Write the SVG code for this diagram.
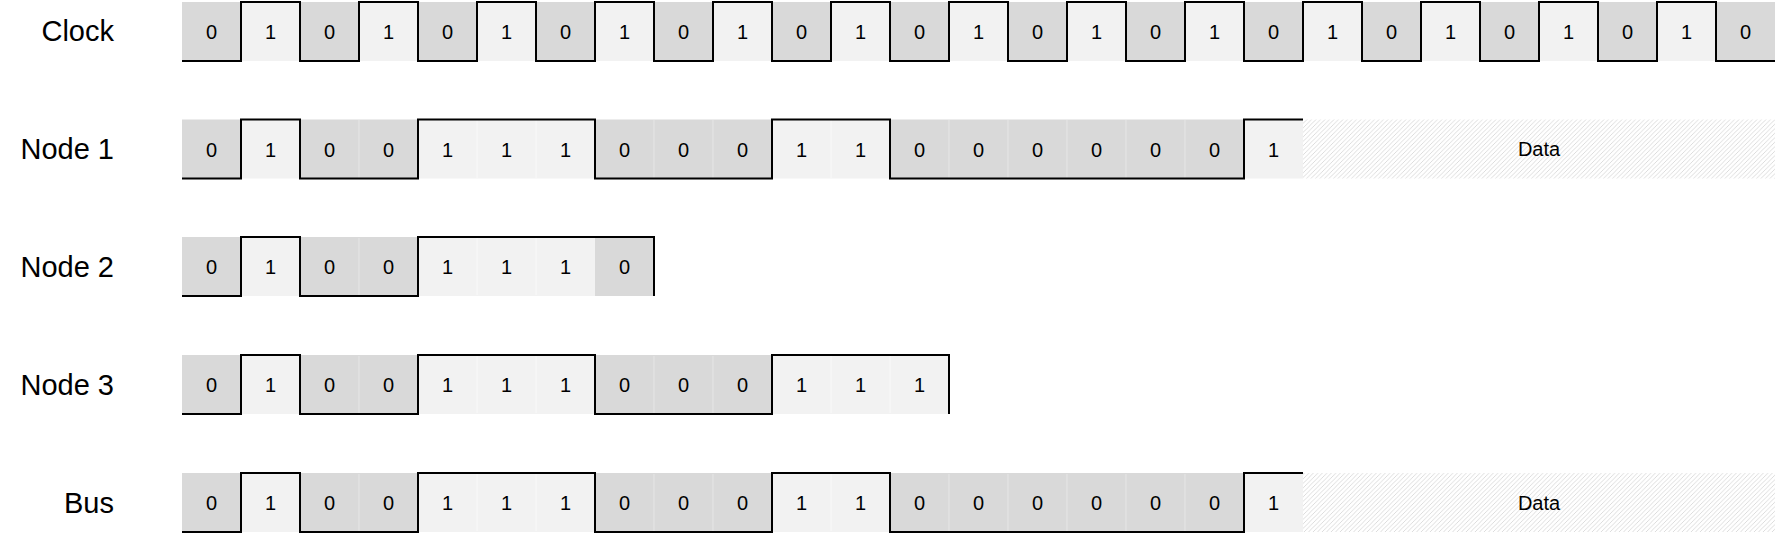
<svg xmlns="http://www.w3.org/2000/svg" width="1778" height="540" viewBox="0 0 1778 540">
<style>
.z{fill:#d9d9d9}
.o{fill:#f2f2f2}
.h{fill:url(#hatch)}
.sz{stroke:#e6e6e6;stroke-width:1}
.so{stroke:#f9f9f9;stroke-width:1}
.w{fill:none;stroke:#000;stroke-width:2;stroke-linejoin:miter;stroke-linecap:butt}
.d{font-family:"Liberation Sans",Arial,sans-serif;font-size:20px;text-anchor:middle;fill:#000}
.l{font-family:"Liberation Sans",Arial,sans-serif;font-size:29px;text-anchor:end;fill:#000}
</style>
<defs>
<pattern id="hatch" patternUnits="userSpaceOnUse" width="4.5" height="4.5">
<rect width="4.5" height="4.5" fill="#ffffff"/>
<path d="M-1,1 L1,-1 M0,4.5 L4.5,0 M3.5,5.5 L5.5,3.5" stroke="#d4d4d4" stroke-width="0.8"/>
</pattern>
</defs>

<g id="clock">
<text class="l" x="114" y="41">Clock</text>
<g>
<rect class="z" x="182" y="2" width="59" height="59"/>
<rect class="o" x="241" y="2" width="59" height="59"/>
<rect class="z" x="300" y="2" width="59" height="59"/>
<rect class="o" x="359" y="2" width="59" height="59"/>
<rect class="z" x="418" y="2" width="59" height="59"/>
<rect class="o" x="477" y="2" width="59" height="59"/>
<rect class="z" x="536" y="2" width="59" height="59"/>
<rect class="o" x="595" y="2" width="59" height="59"/>
<rect class="z" x="654" y="2" width="59" height="59"/>
<rect class="o" x="713" y="2" width="59" height="59"/>
<rect class="z" x="772" y="2" width="59" height="59"/>
<rect class="o" x="831" y="2" width="59" height="59"/>
<rect class="z" x="890" y="2" width="59" height="59"/>
<rect class="o" x="949" y="2" width="59" height="59"/>
<rect class="z" x="1008" y="2" width="59" height="59"/>
<rect class="o" x="1067" y="2" width="59" height="59"/>
<rect class="z" x="1126" y="2" width="59" height="59"/>
<rect class="o" x="1185" y="2" width="59" height="59"/>
<rect class="z" x="1244" y="2" width="59" height="59"/>
<rect class="o" x="1303" y="2" width="59" height="59"/>
<rect class="z" x="1362" y="2" width="59" height="59"/>
<rect class="o" x="1421" y="2" width="59" height="59"/>
<rect class="z" x="1480" y="2" width="59" height="59"/>
<rect class="o" x="1539" y="2" width="59" height="59"/>
<rect class="z" x="1598" y="2" width="59" height="59"/>
<rect class="o" x="1657" y="2" width="59" height="59"/>
<rect class="z" x="1716" y="2" width="59" height="59"/>
</g>
<g>
<text class="d" x="211.5" y="39">0</text>
<text class="d" x="270.5" y="39">1</text>
<text class="d" x="329.5" y="39">0</text>
<text class="d" x="388.5" y="39">1</text>
<text class="d" x="447.5" y="39">0</text>
<text class="d" x="506.5" y="39">1</text>
<text class="d" x="565.5" y="39">0</text>
<text class="d" x="624.5" y="39">1</text>
<text class="d" x="683.5" y="39">0</text>
<text class="d" x="742.5" y="39">1</text>
<text class="d" x="801.5" y="39">0</text>
<text class="d" x="860.5" y="39">1</text>
<text class="d" x="919.5" y="39">0</text>
<text class="d" x="978.5" y="39">1</text>
<text class="d" x="1037.5" y="39">0</text>
<text class="d" x="1096.5" y="39">1</text>
<text class="d" x="1155.5" y="39">0</text>
<text class="d" x="1214.5" y="39">1</text>
<text class="d" x="1273.5" y="39">0</text>
<text class="d" x="1332.5" y="39">1</text>
<text class="d" x="1391.5" y="39">0</text>
<text class="d" x="1450.5" y="39">1</text>
<text class="d" x="1509.5" y="39">0</text>
<text class="d" x="1568.5" y="39">1</text>
<text class="d" x="1627.5" y="39">0</text>
<text class="d" x="1686.5" y="39">1</text>
<text class="d" x="1745.5" y="39">0</text>
</g>
</g>

<g id="node1">
<text class="l" x="114" y="159">Node 1</text>
<g>
<rect class="z" x="182" y="119.5" width="59" height="59"/>
<rect class="o" x="241" y="119.5" width="59" height="59"/>
<rect class="z" x="300" y="119.5" width="118" height="59"/>
<rect class="o" x="418" y="119.5" width="177" height="59"/>
<rect class="z" x="595" y="119.5" width="177" height="59"/>
<rect class="o" x="772" y="119.5" width="118" height="59"/>
<rect class="z" x="890" y="119.5" width="354" height="59"/>
<rect class="o" x="1244" y="119.5" width="59" height="59"/>
<rect class="h" x="1303" y="119.5" width="472" height="59"/>
<path class="sz" d="M359,120V178 M654,120V178 M713,120V178 M949,120V178 M1008,120V178 M1067,120V178 M1126,120V178 M1185,120V178"/>
<path class="so" d="M477,120V178 M536,120V178 M831,120V178"/>
</g>
<g>
<text class="d" x="211.5" y="156.5">0</text>
<text class="d" x="270.5" y="156.5">1</text>
<text class="d" x="329.5" y="156.5">0</text>
<text class="d" x="388.5" y="156.5">0</text>
<text class="d" x="447.5" y="156.5">1</text>
<text class="d" x="506.5" y="156.5">1</text>
<text class="d" x="565.5" y="156.5">1</text>
<text class="d" x="624.5" y="156.5">0</text>
<text class="d" x="683.5" y="156.5">0</text>
<text class="d" x="742.5" y="156.5">0</text>
<text class="d" x="801.5" y="156.5">1</text>
<text class="d" x="860.5" y="156.5">1</text>
<text class="d" x="919.5" y="156.5">0</text>
<text class="d" x="978.5" y="156.5">0</text>
<text class="d" x="1037.5" y="156.5">0</text>
<text class="d" x="1096.5" y="156.5">0</text>
<text class="d" x="1155.5" y="156.5">0</text>
<text class="d" x="1214.5" y="156.5">0</text>
<text class="d" x="1273.5" y="156.5">1</text>
<text class="d" x="1539" y="156">Data</text>
</g>
</g>

<g id="node2">
<text class="l" x="114" y="276.5">Node 2</text>
<g>
<rect class="z" x="182" y="237" width="59" height="59"/>
<rect class="o" x="241" y="237" width="59" height="59"/>
<rect class="z" x="300" y="237" width="118" height="59"/>
<rect class="o" x="418" y="237" width="177" height="59"/>
<rect class="z" x="595" y="237" width="59" height="59"/>
<path class="sz" d="M359,238V295"/>
<path class="so" d="M477,238V295 M536,238V295"/>
</g>
<g>
<text class="d" x="211.5" y="274">0</text>
<text class="d" x="270.5" y="274">1</text>
<text class="d" x="329.5" y="274">0</text>
<text class="d" x="388.5" y="274">0</text>
<text class="d" x="447.5" y="274">1</text>
<text class="d" x="506.5" y="274">1</text>
<text class="d" x="565.5" y="274">1</text>
<text class="d" x="624.5" y="274">0</text>
</g>
</g>

<g id="node3">
<text class="l" x="114" y="394.5">Node 3</text>
<g>
<rect class="z" x="182" y="355" width="59" height="59"/>
<rect class="o" x="241" y="355" width="59" height="59"/>
<rect class="z" x="300" y="355" width="118" height="59"/>
<rect class="o" x="418" y="355" width="177" height="59"/>
<rect class="z" x="595" y="355" width="177" height="59"/>
<rect class="o" x="772" y="355" width="177" height="59"/>
<path class="sz" d="M359,356V413 M654,356V413 M713,356V413"/>
<path class="so" d="M477,356V413 M536,356V413 M831,356V413 M890,356V413"/>
</g>
<g>
<text class="d" x="211.5" y="392">0</text>
<text class="d" x="270.5" y="392">1</text>
<text class="d" x="329.5" y="392">0</text>
<text class="d" x="388.5" y="392">0</text>
<text class="d" x="447.5" y="392">1</text>
<text class="d" x="506.5" y="392">1</text>
<text class="d" x="565.5" y="392">1</text>
<text class="d" x="624.5" y="392">0</text>
<text class="d" x="683.5" y="392">0</text>
<text class="d" x="742.5" y="392">0</text>
<text class="d" x="801.5" y="392">1</text>
<text class="d" x="860.5" y="392">1</text>
<text class="d" x="919.5" y="392">1</text>
</g>
</g>

<g id="bus">
<text class="l" x="114" y="512.5">Bus</text>
<g>
<rect class="z" x="182" y="473" width="59" height="59"/>
<rect class="o" x="241" y="473" width="59" height="59"/>
<rect class="z" x="300" y="473" width="118" height="59"/>
<rect class="o" x="418" y="473" width="177" height="59"/>
<rect class="z" x="595" y="473" width="177" height="59"/>
<rect class="o" x="772" y="473" width="118" height="59"/>
<rect class="z" x="890" y="473" width="354" height="59"/>
<rect class="o" x="1244" y="473" width="59" height="59"/>
<rect class="h" x="1303" y="473" width="472" height="59"/>
<path class="sz" d="M359,474V531 M654,474V531 M713,474V531 M949,474V531 M1008,474V531 M1067,474V531 M1126,474V531 M1185,474V531"/>
<path class="so" d="M477,474V531 M536,474V531 M831,474V531"/>
</g>
<g>
<text class="d" x="211.5" y="510">0</text>
<text class="d" x="270.5" y="510">1</text>
<text class="d" x="329.5" y="510">0</text>
<text class="d" x="388.5" y="510">0</text>
<text class="d" x="447.5" y="510">1</text>
<text class="d" x="506.5" y="510">1</text>
<text class="d" x="565.5" y="510">1</text>
<text class="d" x="624.5" y="510">0</text>
<text class="d" x="683.5" y="510">0</text>
<text class="d" x="742.5" y="510">0</text>
<text class="d" x="801.5" y="510">1</text>
<text class="d" x="860.5" y="510">1</text>
<text class="d" x="919.5" y="510">0</text>
<text class="d" x="978.5" y="510">0</text>
<text class="d" x="1037.5" y="510">0</text>
<text class="d" x="1096.5" y="510">0</text>
<text class="d" x="1155.5" y="510">0</text>
<text class="d" x="1214.5" y="510">0</text>
<text class="d" x="1273.5" y="510">1</text>
<text class="d" x="1539" y="509.5">Data</text>
</g>
</g>

<g id="connectors">
<path id="wave-clock" class="w" d="M182,61 H241 V2 H300 V61 H359 V2 H418 V61 H477 V2 H536 V61 H595 V2 H654 V61 H713 V2 H772 V61 H831 V2 H890 V61 H949 V2 H1008 V61 H1067 V2 H1126 V61 H1185 V2 H1244 V61 H1303 V2 H1362 V61 H1421 V2 H1480 V61 H1539 V2 H1598 V61 H1657 V2 H1716 V61 H1775"/>
<path id="wave-node1" class="w" d="M182,178.5 H241 V119.5 H300 V178.5 H418 V119.5 H595 V178.5 H772 V119.5 H890 V178.5 H1244 V119.5 H1303"/>
<path id="wave-node2" class="w" d="M182,296 H241 V237 H300 V296 H418 V237 H654 V296"/>
<path id="wave-node3" class="w" d="M182,414 H241 V355 H300 V414 H418 V355 H595 V414 H772 V355 H949 V414"/>
<path id="wave-bus" class="w" d="M182,532 H241 V473 H300 V532 H418 V473 H595 V532 H772 V473 H890 V532 H1244 V473 H1303"/>
</g>
</svg>
